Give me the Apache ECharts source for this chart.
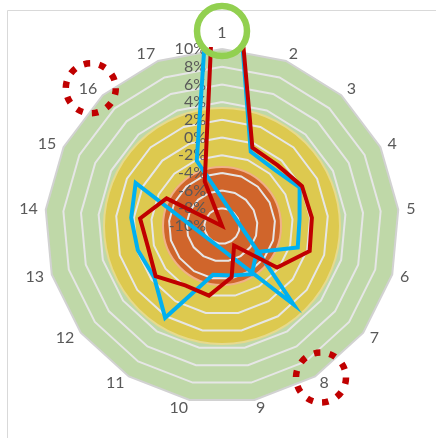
<!DOCTYPE html>
<html>
<head>
<meta charset="utf-8">
<script src="https://cdn.jsdelivr.net/npm/echarts@6/dist/echarts.min.js"></script>
<style>
html,body{margin:0;padding:0;background:#fff;}
#chart{width:436px;height:438px;}
</style>
</head>
<body>
<div id="chart"></div>
<script>
// ---- data ----
const categories = ['1','2','3','4','5','6','7','8','9','10','11','12','13','14','15','16','17'];
const axisMin = -10;
const axisMax = 10;
const axisInterval = 2;
const seriesRedValues  = [37.5, -0.5, -0.7, 0.1, 0.2, 0.3, -2.2, -7.4, -4.1, -2.0, -2.1, -0.6, -1.3, -0.7, -3.0, -10.0, -4.6];
const seriesBlueValues = [40.0, -1.0, -1.3, -0.2, -1.2, -1.1, -5.1, -3.6, -4.3, -4.4, 2.2, -0.4, -0.1, 0.3, 0.9, -22.0, -2.1];
const outerBandLevel = 10;   // green zone up to the outer ring
const innerZoneCount = 3;    // orange / yellow / (green) zones split the radius in thirds

// ---- layout / style ----
const CX = 222, CY = 226, R = 177;

// ECharts radar runs counter-clockwise; Excel runs clockwise -> reorder
const order = categories.map((_, k) => k === 0 ? 0 : categories.length - k);
const reorder = arr => order.map(i => arr[i]);

const indicators = order.map((i, k) => {
  const ind = { name: categories[i], min: axisMin, max: axisMax };
  if (k === 0) ind.axisLabel = { show: true };
  return ind;
});
const plainIndicators = () => order.map(i => ({ name: categories[i], min: axisMin, max: axisMax }));

const splitColors = [];
for (let t = axisMin; t <= axisMax; t += axisInterval) splitColors.push(t === axisMax ? '#d2d2d2' : '#e6e6e6');

const chart = echarts.init(document.getElementById('chart'));
chart.setOption({
  animation: false,
  backgroundColor: '#ffffff',
  radar: [
    { // grid + value labels
      z: 3,
      center: [CX, CY],
      radius: R,
      startAngle: 90,
      splitNumber: (axisMax - axisMin) / axisInterval,
      shape: 'polygon',
      indicator: indicators,
      axisName: { show: false },
      axisLine: { show: false },
      axisTick: { show: false },
      splitArea: { show: false },
      splitLine: { lineStyle: { color: splitColors, width: 2 } },
      axisLabel: {
        show: false,
        color: '#595959',
        fontSize: 16,
        fontFamily: 'Lato',
        margin: 16,
        formatter: v => v + '%'
      }
    },
    { // category names on top
      z: 60,
      center: [CX, CY],
      radius: R,
      startAngle: 90,
      shape: 'polygon',
      indicator: plainIndicators(),
      nameGap: 8,
      axisName: { show: true, color: '#595959', fontSize: 16, fontFamily: 'Lato' },
      axisLine: { show: false },
      axisTick: { show: false },
      axisLabel: { show: false },
      splitArea: { show: false },
      splitLine: { show: false }
    },
    { // round orange / yellow zones
      z: 2,
      center: [CX, CY],
      radius: R,
      startAngle: 90,
      splitNumber: innerZoneCount,
      shape: 'circle',
      indicator: plainIndicators(),
      axisName: { show: false },
      axisLine: { show: false },
      axisTick: { show: false },
      axisLabel: { show: false },
      splitArea: { show: true, areaStyle: { color: ['#D0652B', '#DDC94F', 'rgba(0,0,0,0)'], opacity: 1 } },
      splitLine: { show: true, lineStyle: { color: ['rgba(0,0,0,0)', '#F0B088', '#E6DA8E', 'rgba(0,0,0,0)'], width: 2 } }
    }
  ],
  series: [
    {
      type: 'radar', radarIndex: 0, z: 1, silent: true, symbol: 'none',
      data: [{
        value: categories.map(() => outerBandLevel),
        lineStyle: { width: 0, color: 'rgba(0,0,0,0)' },
        areaStyle: { color: '#BFD8A8', opacity: 1 }
      }]
    },
    {
      type: 'radar', radarIndex: 0, z: 5, silent: true, symbol: 'none',
      data: [
        { name: 'Blue', value: reorder(seriesBlueValues), lineStyle: { color: '#00B0F0', width: 4, join: 'miter' } },
        { name: 'Red', value: reorder(seriesRedValues), lineStyle: { color: '#C00000', width: 4, join: 'miter' } }
      ]
    }
  ],
  graphic: [
    { type: 'rect', z: 50, shape: { x: 201, y: 0, width: 52, height: 47 }, style: { fill: '#ffffff' } },
    { type: 'rect', z: 55, shape: { x: 7.5, y: 10.5, width: 600, height: 600 }, style: { fill: 'none', stroke: '#d9d9d9', lineWidth: 1 } },
    { type: 'circle', z: 70, shape: { cx: 222, cy: 31, r: 25 }, style: { fill: 'none', stroke: '#92D050', lineWidth: 6.5 } },
    { type: 'circle', z: 70, shape: { cx: 90.8, cy: 88.3, r: 25 }, style: { fill: 'none', stroke: '#C00000', lineWidth: 6.5, lineDash: [6.5, 9.2] } },
    { type: 'circle', z: 70, shape: { cx: 321, cy: 377.5, r: 25 }, style: { fill: 'none', stroke: '#C00000', lineWidth: 6.5, lineDash: [6.5, 9.2] } }
  ]
});
</script>
</body>
</html>
